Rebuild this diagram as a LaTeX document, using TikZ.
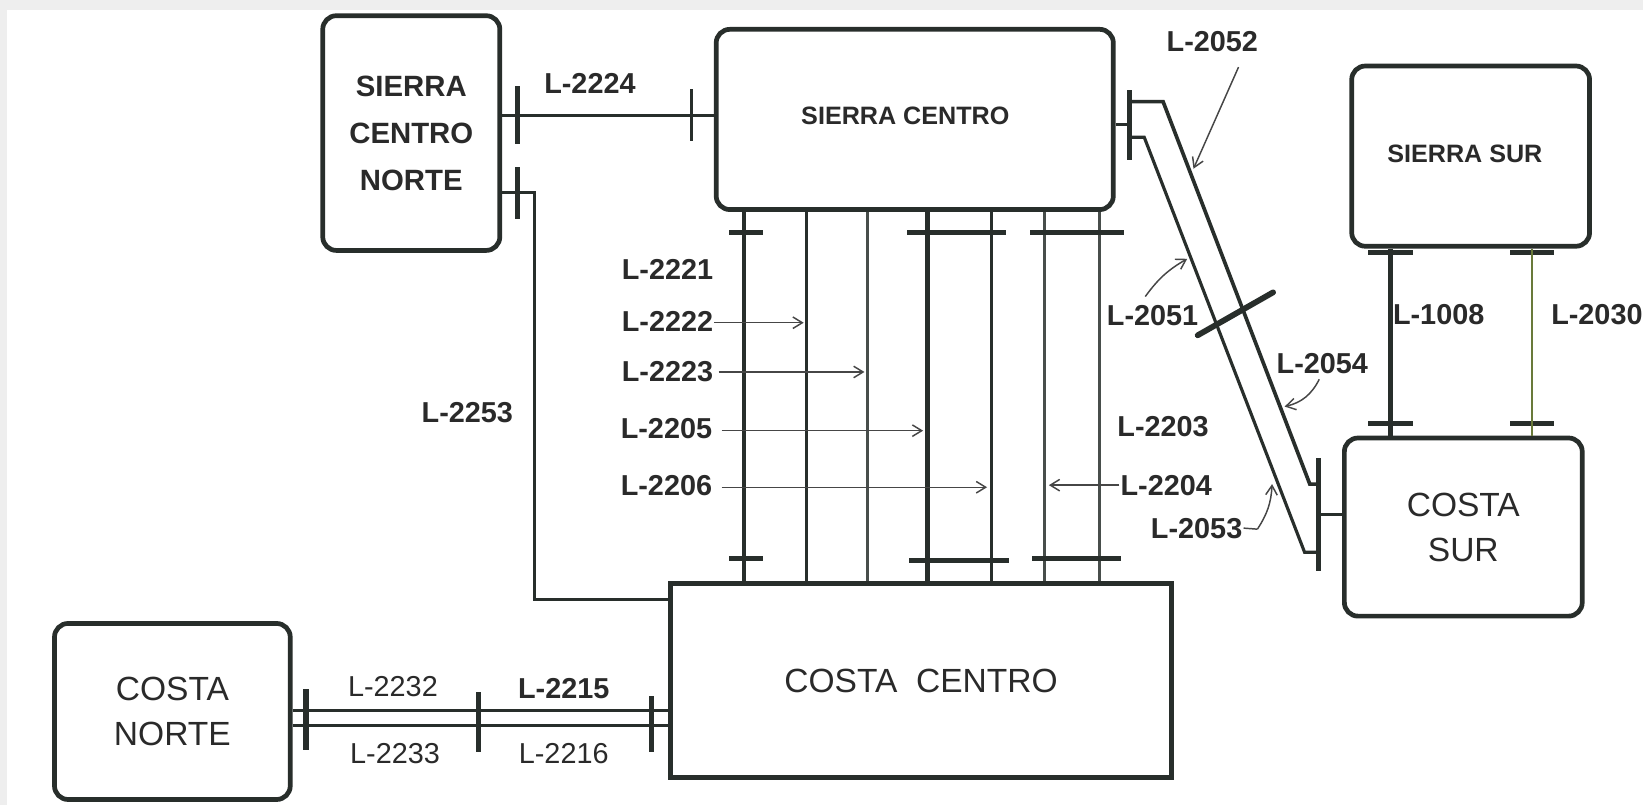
\documentclass[tikz,border=0pt]{standalone}
\usepackage{fontspec}
\setmainfont{Liberation Sans}
\usetikzlibrary{arrows.meta,calc}
\definecolor{ink}{RGB}{40,46,43}
\definecolor{txt}{RGB}{42,42,42}
\definecolor{olive}{RGB}{105,122,58}
\definecolor{bggray}{RGB}{238,238,238}
\definecolor{lightink}{RGB}{72,78,75}
\definecolor{arrink}{RGB}{70,70,70}
\begin{document}
\begin{tikzpicture}[x=1pt,y=-1pt,
  box/.style={draw=ink, line width=4.5pt, rounded corners=13pt, fill=white, inner sep=0pt},
  sqbox/.style={draw=ink, line width=5pt, fill=white, inner sep=0pt},
  boldbox/.style={font=\fontsize{28}{45}\selectfont\bfseries, text=txt, align=center},
  smallbold/.style={font=\fontsize{24}{28}\selectfont\bfseries, text=txt},
  regbox/.style={font=\fontsize{32}{43}\selectfont, text=txt, align=center},
  lab/.style={font=\fontsize{27.5}{30}\selectfont\bfseries, text=txt, inner sep=1pt},
  labr/.style={font=\fontsize{27.5}{30}\selectfont, text=txt, inner sep=1pt},
  tickv/.style={fill=ink, draw=none, inner sep=0pt, minimum width=5pt},
  tickh/.style={fill=ink, draw=none, inner sep=0pt, minimum height=4.5pt},
  wire/.style={draw=ink, line width=3pt},
  arr/.style={draw=arrink, line width=1.4pt, -{Straight Barb[length=9pt,width=11pt]}},
  leader/.style={draw=arrink, line width=1.4pt}
]
% background and frame
\fill[bggray] (0,0) rectangle (1568,768);
\fill[white] (7,10) rectangle (1568,768);
\useasboundingbox (0,0) rectangle (1568,768);

% ---------- areas ----------
\node[box, boldbox, minimum width=169pt, minimum height=224pt] (scn) at (392.5,127) {SIERRA\\CENTRO\\NORTE};
\node[box, minimum width=379pt, minimum height=172pt] (sc) at (873,114) {};
\node[smallbold] (sct) at (864,111) {SIERRA CENTRO};
\node[box, minimum width=227pt, minimum height=172pt] (ss) at (1403.5,149) {};
\node[smallbold] (sst) at (1398,147) {SIERRA SUR};
\node[box, regbox, minimum width=227pt, minimum height=170pt] (cs) at (1396.5,503) {COSTA\\SUR};
\node[box, regbox, minimum width=225pt, minimum height=168pt] (cn) at (164.5,679) {COSTA\\NORTE};
\node[sqbox, font=\fontsize{32}{38}\selectfont, text=txt, minimum width=478pt, minimum height=185pt] (cc) at (879,649.5) {COSTA\ \ CENTRO};

% ---------- L-2224 ----------
\node[tickv, minimum height=55pt] (k1) at (494,110) {};
\node[tickv, minimum width=2.5pt, minimum height=50pt] (k2) at (660,110) {};
\draw[wire] (scn.east |- k1) -- (sc.west |- k1);
\node[lab] (l2224) at (563,80) {L-2224};

% ---------- L-2253 ----------
\node[tickv, minimum height=50pt] (k3) at (494,184) {};
\coordinate (b1) at (510,184);
\coordinate (b2) at (510,572);
\draw[wire] (scn.east |- k3) -- (b1) -- (b2) -- (cc.west |- b2);
\node[lab] (l2253) at (446,394) {L-2253};

% ---------- vertical lines SIERRA CENTRO - COSTA CENTRO ----------
\coordinate (v1) at (710,0);
\coordinate (v2) at (770,0);
\coordinate (v3) at (828,0);
\coordinate (v4) at (885,0);
\coordinate (v5) at (946,0);
\coordinate (v6) at (997,0);
\coordinate (v7) at (1049,0);
\draw[draw=ink, line width=4pt] (sc.south -| v1) -- (cc.north -| v1);
\draw[draw=ink, line width=3pt] (sc.south -| v2) -- (cc.north -| v2);
\draw[draw=lightink, line width=2.5pt] (sc.south -| v3) -- (cc.north -| v3);
\draw[draw=ink, line width=4.5pt] (sc.south -| v4) -- (cc.north -| v4);
\draw[draw=ink, line width=3pt] (sc.south -| v5) -- (cc.north -| v5);
\draw[draw=lightink, line width=3pt] (sc.south -| v6) -- (cc.north -| v6);
\draw[draw=lightink, line width=3pt] (sc.south -| v7) -- (cc.north -| v7);

\node[tickh, minimum width=33pt] (h1) at (712,222) {};
\node[tickh, minimum width=33pt] (h2) at (712,533) {};
\node[tickh, minimum width=95pt] (h3) at (913,222) {};
\node[tickh, minimum width=95pt] (h4) at (915,535) {};
\node[tickh, minimum width=90pt] (h5) at (1028,222) {};
\node[tickh, minimum width=85pt] (h6) at (1027,533) {};

\node[lab] (l2221) at (637,257) {L-2221};
\node[lab] (l2222) at (637,307) {L-2222};
\node[lab] (l2223) at (637,355) {L-2223};
\node[lab] (l2205) at (636,409) {L-2205};
\node[lab] (l2206) at (636,463) {L-2206};
\coordinate (y22) at (0,308);
\coordinate (y23) at (0,355);
\coordinate (y05) at (0,411);
\coordinate (y06) at (0,465);
\draw[arr, shorten >=3pt] (l2222.east |- y22) -- (v2 |- y22);
\draw[arr, shorten >=3pt] ($(l2223.east |- y23)+(4,0)$) -- (v3 |- y23);
\draw[arr, shorten >=4pt] ($(l2205.east |- y05)+(8,0)$) -- (v4 |- y05);
\draw[arr, shorten >=4pt] ($(l2206.east |- y06)+(8,0)$) -- (v5 |- y06);

\node[lab] (l2203) at (1110,407) {L-2203};
\node[lab] (l2204) at (1113,463) {L-2204};
\draw[arr, shorten >=4pt] (l2204.west) -- (v6 |- l2204);

% ---------- SIERRA CENTRO - COSTA SUR (double diagonal) ----------
\node[tickv, minimum height=67pt] (k4) at (1078,119) {};
\node[tickv, minimum height=108pt] (k5) at (1258,491) {};
\draw[wire] (sc.east |- k4) -- (k4);
\draw[wire] (k5) -- (cs.west |- k5);
\coordinate (u1) at (1110,97);
\coordinate (u2) at (1250,462);
\coordinate (d1) at (1092,131);
\coordinate (d2) at (1245,527);
\draw[wire, line width=3.5pt, line join=miter] (k4 |- u1) -- (u1) -- (u2) -- (k5 |- u2);
\draw[wire, line join=miter] (k4 |- d1) -- (d1) -- (d2) -- (k5 |- d2);
\coordinate (s1) at (1143,320);
\coordinate (s2) at (1215,279);
\draw[draw=ink, line width=5.5pt, line cap=round] (s1) -- (s2);

\node[lab] (l2052) at (1157,40) {L-2052};
\coordinate (a52s) at (1182,64);
\coordinate (a52e) at (1139,161);
\draw[arr] (a52s) -- (a52e);

\node[lab] (l2051) at (1100,301) {L-2051};
\coordinate (a51s) at (1093,283);
\coordinate (a51e) at (1133,247);
\draw[arr] (a51s) to[bend left=12] (a51e);

\node[lab] (l2054) at (1262,347) {L-2054};
\coordinate (a54s) at (1259,362);
\coordinate (a54e) at (1226,388);
\draw[arr] (a54s) to[bend left=25] (a54e);

\node[lab] (l2053) at (1142,504) {L-2053};
\coordinate (a53m) at (1200,505);
\coordinate (a53e) at (1214,462);
\draw[leader] (l2053.east) -- (a53m);
\draw[arr] (a53m) to[bend right=15] (a53e);

% ---------- SIERRA SUR - COSTA SUR ----------
\node[tickh, minimum width=43pt] (k6) at (1327,241) {};
\node[tickh, minimum width=43pt] (k7) at (1327,404) {};
\draw[draw=ink, line width=4pt] (ss.south -| k6) -- (cs.north -| k6);
\node[tickh, minimum width=42pt] (k8) at (1462,241) {};
\node[tickh, minimum width=42pt] (k9) at (1462,404) {};
\draw[draw=olive, line width=2pt] (ss.south -| k8) -- (cs.north -| k8);
\node[lab] (l1008) at (1373,300) {L-1008};
\node[lab] (l2030) at (1524,300) {L-2030};

% ---------- COSTA NORTE - COSTA CENTRO ----------
\coordinate (r1) at (0,678);
\coordinate (r2) at (0,692);
\draw[wire] (cn.east |- r1) -- (cc.west |- r1);
\draw[wire] (cn.east |- r2) -- (cc.west |- r2);
\node[tickv, minimum height=58pt] (k10) at (292,687) {};
\node[tickv, minimum height=58pt] (k11) at (457,689) {};
\node[tickv, minimum height=53pt] (k12) at (622,691) {};
\node[labr] (l2232) at (375,655) {L-2232};
\node[labr] (l2233) at (377,719) {L-2233};
\node[lab] (l2215) at (538,657) {L-2215};
\node[labr] (l2216) at (538,719) {L-2216};
\end{tikzpicture}
\end{document}
